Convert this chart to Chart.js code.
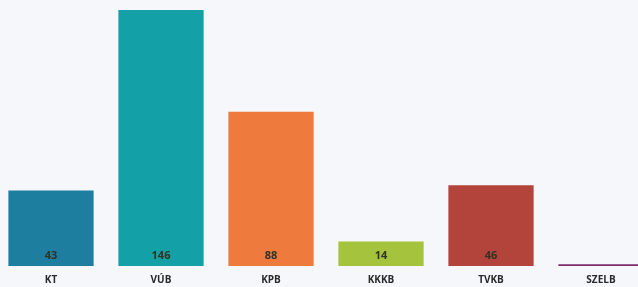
<!DOCTYPE html>
<html>
<head>
<meta charset="utf-8">
<script src="https://cdn.jsdelivr.net/npm/chart.js@4"></script>
<style>
  html, body { margin: 0; padding: 0; background: #f5f7fb; overflow: hidden; }
  #wrap { position: absolute; left: -4px; top: 0; width: 660px; height: 287px; }
</style>
</head>
<body>
<div id="wrap"><canvas id="c"></canvas></div>
<script>
const categories = ["KT", "VÚB", "KPB", "KKKB", "TVKB", "SZELB"];
const values = [43, 146, 88, 14, 46, 1];
const barColors = ["#1e7ea0", "#13a0a7", "#ee7a3e", "#a5c33d", "#b3443b", "#7d2b6c"];
// SZELB is too small to carry a label
const shownLabels = ["43", "146", "88", "14", "46", ""];

// value numbers sitting at the foot of each bar
const barValues = {
  id: "barValues",
  afterDatasetsDraw(chart) {
    const ctx = chart.ctx;
    const meta = chart.getDatasetMeta(0);
    ctx.save();
    ctx.font = "bold 11px 'Open Sans', sans-serif";
    ctx.fillStyle = "#2f3322";
    ctx.textAlign = "center";
    ctx.textBaseline = "middle";
    meta.data.forEach((bar, i) => {
      if (!shownLabels[i]) return;
      ctx.fillText(shownLabels[i], bar.x, bar.base - 10);
    });
    ctx.restore();
  },
};

new Chart(document.getElementById("c").getContext("2d"), {
  type: "bar",
  data: {
    labels: categories,
    datasets: [{
      data: values,
      backgroundColor: barColors,
      barPercentage: 0.775,
      categoryPercentage: 1,
    }],
  },
  options: {
    responsive: true,
    maintainAspectRatio: false,
    animation: false,
    layout: { padding: { top: 10, left: 0, right: 0, bottom: 0 } },
    plugins: {
      legend: { display: false },
      tooltip: { enabled: false },
    },
    scales: {
      x: {
        grid: { display: false, drawTicks: false },
        border: { display: false },
        ticks: {
          padding: 8,
          color: "#2a2a2a",
          font: { family: "'Open Sans', sans-serif", size: 10, weight: "bold" },
        },
        afterFit(scale) { scale.height = 21; },
      },
      y: {
        display: false,
        min: 0,
        max: 146,
      },
    },
  },
  plugins: [barValues],
});
</script>
</body>
</html>
